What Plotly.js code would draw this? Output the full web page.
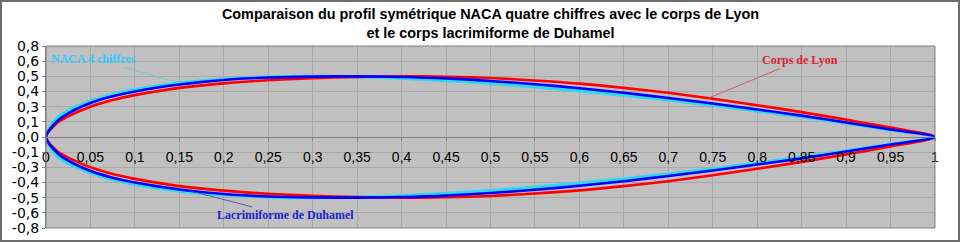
<!DOCTYPE html>
<html>
<head>
<meta charset="utf-8">
<script src="https://cdn.plot.ly/plotly-3.0.1.min.js"></script>
<style>
  html, body { margin: 0; padding: 0; background: #ffffff; }
  #wrap { position: relative; width: 960px; height: 242px; }
  #chart { width: 960px; height: 242px; }
  #frame { position: absolute; left: 0; top: 0; width: 960px; height: 242px; box-sizing: border-box; border: 2px solid #6e6e6e; pointer-events: none; }
</style>
</head>
<body>
<div id="wrap"><div id="chart"></div><div id="frame"></div></div>
<script>
// chord positions (fraction of chord)
const xc = [0, 0.0125, 0.025, 0.05, 0.075, 0.1, 0.15, 0.2, 0.25, 0.3, 0.35, 0.4, 0.45, 0.5, 0.55, 0.6, 0.65, 0.7, 0.75, 0.8, 0.85, 0.9, 0.95, 1];
// half-thickness values (upper surface; lower surface is symmetric)
const nacaHalf  = [0, 0.158, 0.218, 0.296, 0.350, 0.390, 0.446, 0.478, 0.495, 0.500, 0.496, 0.484, 0.465, 0.441, 0.413, 0.380, 0.344, 0.305, 0.262, 0.214, 0.166, 0.114, 0.059, 0];
const lyonHalf  = [0, 0.115, 0.170, 0.250, 0.305, 0.345, 0.405, 0.442, 0.468, 0.485, 0.495, 0.500, 0.497, 0.486, 0.466, 0.440, 0.405, 0.364, 0.315, 0.262, 0.205, 0.143, 0.078, 0];
const duhaHalf  = [0, 0.130, 0.195, 0.280, 0.335, 0.375, 0.432, 0.470, 0.490, 0.498, 0.500, 0.495, 0.483, 0.462, 0.435, 0.402, 0.364, 0.322, 0.276, 0.226, 0.176, 0.120, 0.062, 0];

const seriesNames = ['NACA 4 chiffres', 'Corps de Lyon', 'Lacrimiforme de Duhamel'];
const seriesColors = ['#2fd8f8', '#ff0000', '#0000ff'];

const yTickVals = [-0.75, -0.625, -0.5, -0.375, -0.25, -0.125, 0, 0.125, 0.25, 0.375, 0.5, 0.625, 0.75];
const yTickText = ['-0,8', '-0,6', '-0,5', '-0,4', '-0,3', '-0,1', '0,0', '0,1', '0,3', '0,4', '0,5', '0,6', '0,8'];
const xTickVals = [0, 0.05, 0.1, 0.15, 0.2, 0.25, 0.3, 0.35, 0.4, 0.45, 0.5, 0.55, 0.6, 0.65, 0.7, 0.75, 0.8, 0.85, 0.9, 0.95, 1];
const xTickText = ['0', '0,05', '0,1', '0,15', '0,2', '0,25', '0,3', '0,35', '0,4', '0,45', '0,5', '0,55', '0,6', '0,65', '0,7', '0,75', '0,8', '0,85', '0,9', '0,95', '1'];

const titleText = 'Comparaison du profil symétrique NACA quatre chiffres avec le corps de Lyon<br>et le corps lacrimiforme de Duhamel';

// closed loop: upper surface from trailing edge to nose, then lower surface back to trailing edge
function loop(half) {
  const xs = [], ys = [];
  for (let i = xc.length - 1; i >= 0; i--) { xs.push(xc[i]); ys.push(half[i]); }
  for (let i = 1; i < xc.length; i++) { xs.push(xc[i]); ys.push(-half[i]); }
  return { xs, ys };
}

const halves = [nacaHalf, lyonHalf, duhaHalf];
const traces = halves.map((h, k) => {
  const l = loop(h);
  return {
    type: 'scatter', mode: 'lines', name: seriesNames[k],
    x: l.xs, y: l.ys,
    line: { color: seriesColors[k], width: k === 0 ? 3.2 : 2.6, shape: 'spline', smoothing: 0.8 },
    hoverinfo: 'skip'
  };
});

const serif = 'Liberation Serif, Times New Roman, serif';
const sans = 'Liberation Sans, Arial, sans-serif';
const layout = {
  width: 960, height: 242,
  margin: { l: 46, r: 25, t: 46, b: 14, pad: 0 },
  paper_bgcolor: '#ffffff',
  plot_bgcolor: '#c0c0c0',
  showlegend: false,
  title: {
    text: titleText,
    font: { family: sans, size: 14.4, color: '#000000', weight: 'bold' },
    x: 0.5, xanchor: 'center', xref: 'paper',
    y: 0.92, yanchor: 'top', yref: 'container'
  },
  xaxis: {
    range: [0, 1], tickvals: xTickVals, ticktext: xTickText,
    anchor: 'free', position: 0.5,
    showline: true, linecolor: '#808080', linewidth: 1,
    ticks: 'outside', ticklen: 3, tickcolor: '#808080',
    ticklabelstandoff: 4,
    showgrid: true, gridcolor: '#a9a9a9', gridwidth: 1,
    zeroline: false,
    tickfont: { family: sans, size: 14, color: '#000000' },
    fixedrange: true
  },
  yaxis: {
    range: [-0.75, 0.75], tickvals: yTickVals, ticktext: yTickText,
    showline: true, linecolor: '#808080', linewidth: 1,
    ticks: 'outside', ticklen: 3, tickcolor: '#808080',
    showgrid: true, gridcolor: '#a9a9a9', gridwidth: 1,
    zeroline: false,
    tickfont: { family: 'DejaVu Sans, Liberation Sans, sans-serif', size: 14, color: '#000000' },
    fixedrange: true
  },
  shapes: [
    { type: 'rect', xref: 'paper', yref: 'paper', x0: 0, x1: 1, y0: 0, y1: 1, line: { color: '#808080', width: 1 }, fillcolor: 'rgba(0,0,0,0)' }
  ],
  annotations: [
    { x: 0.15, y: 0.446, xref: 'x', yref: 'y', text: '<b>NACA 4 chiffres</b>', showarrow: true, arrowhead: 0, arrowwidth: 0.8, arrowcolor: '#5fd0d0', ax: -86, ay: -24, standoff: 0,
      font: { family: serif, size: 12, color: '#33ccff' } },
    { x: 0.745, y: 0.32, xref: 'x', yref: 'y', text: '<b>Corps de Lyon</b>', showarrow: true, arrowhead: 0, arrowwidth: 0.8, arrowcolor: '#d04060', ax: 92, ay: -38, standoff: 0,
      font: { family: serif, size: 12, color: '#dd2233' } },
    { x: 0.16, y: -0.44, xref: 'x', yref: 'y', text: '<b>Lacrimiforme de Duhamel</b>', showarrow: true, arrowhead: 0, arrowwidth: 0.8, arrowcolor: '#4040b0', ax: 97, ay: 25, standoff: 0,
      font: { family: serif, size: 12, color: '#2222cc' } }
  ]
};

Plotly.newPlot('chart', traces, layout, { staticPlot: true, displayModeBar: false });
</script>
</body>
</html>
